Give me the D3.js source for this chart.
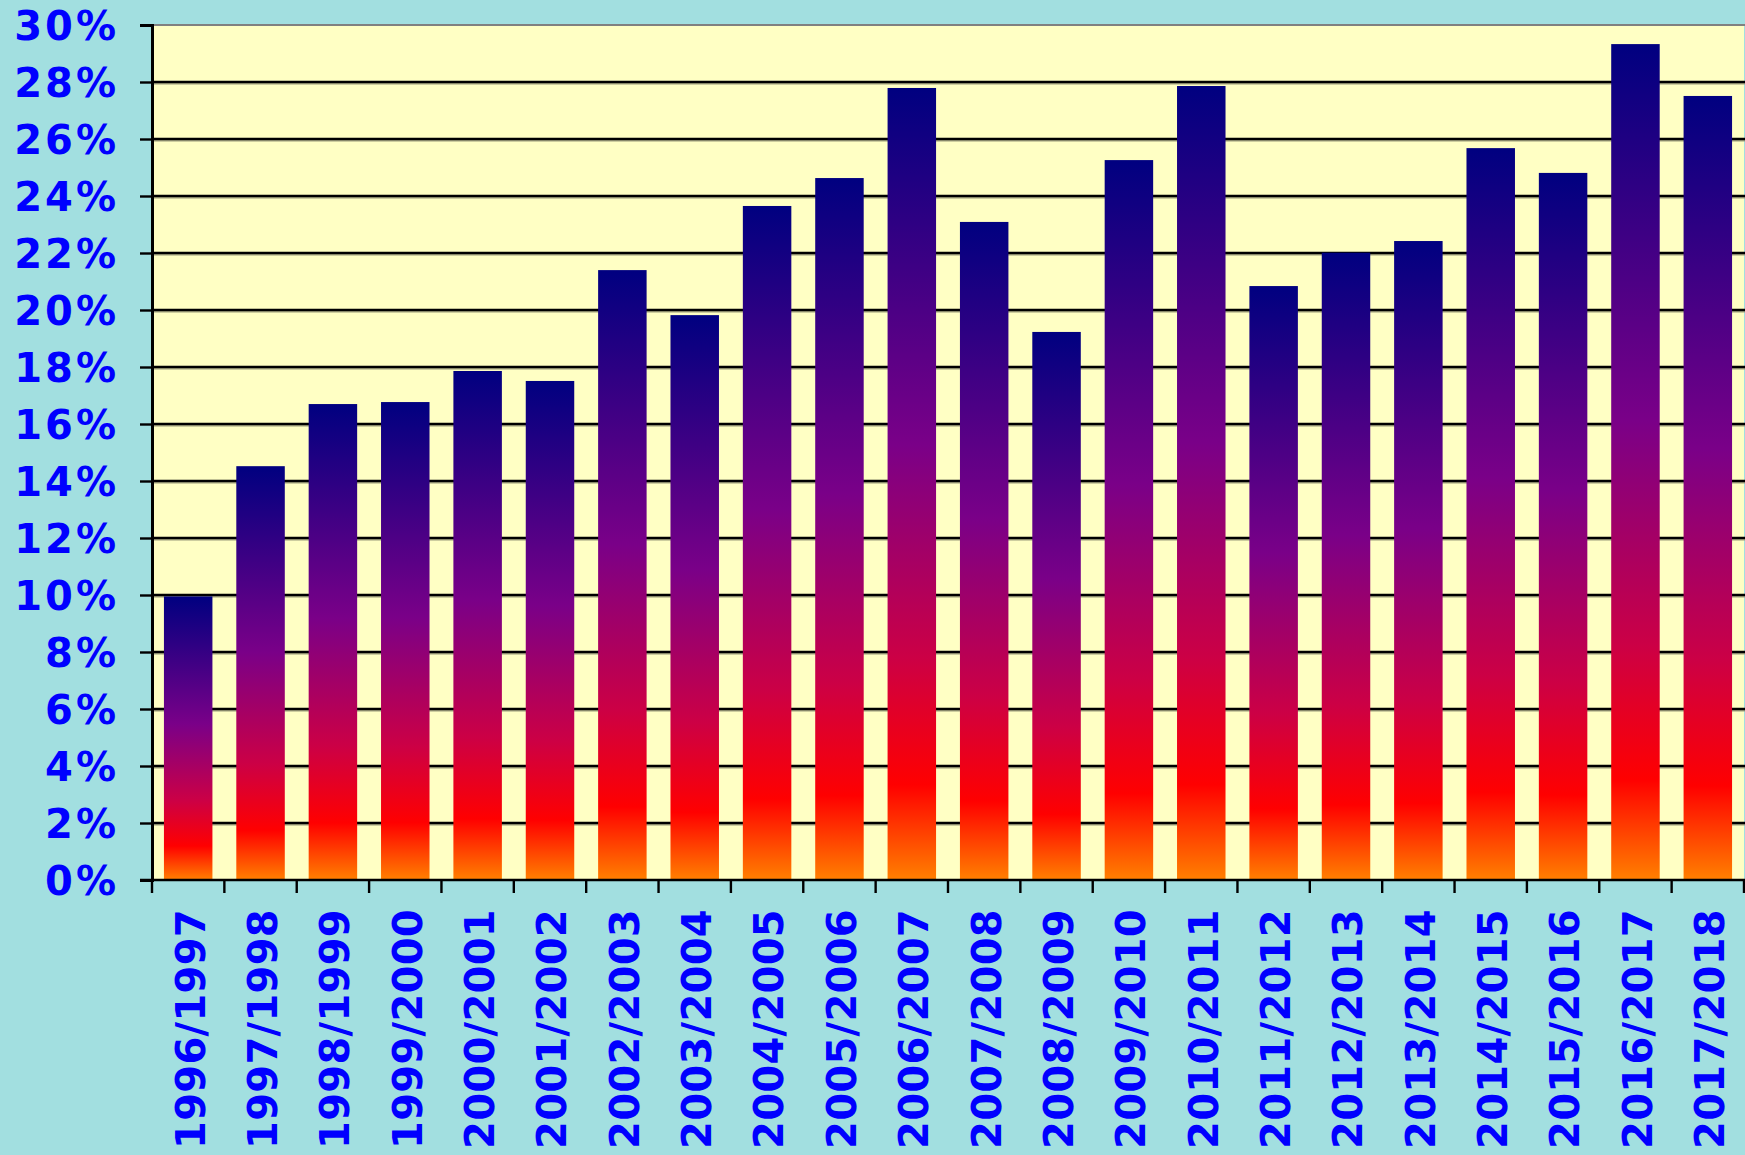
<!DOCTYPE html>
<html>
<head>
<meta charset="utf-8">
<script src="https://cdn.jsdelivr.net/npm/d3@7"></script>
<style>
  html, body { margin: 0; padding: 0; background: #A2DFE0; }
  svg { display: block; }
  text { font-family: "DejaVu Sans", Verdana, sans-serif; font-weight: bold; fill: #0000FF; }
</style>
</head>
<body>
<svg id="chart" width="1745" height="1155"></svg>
<script>
// Seasons along the x axis
const seasons = [
  "1996/1997", "1997/1998", "1998/1999", "1999/2000", "2000/2001", "2001/2002",
  "2002/2003", "2003/2004", "2004/2005", "2005/2006", "2006/2007", "2007/2008",
  "2008/2009", "2009/2010", "2010/2011", "2011/2012", "2012/2013", "2013/2014",
  "2014/2015", "2015/2016", "2016/2017", "2017/2018"
];

// Share per season, in percent
const shares = [
  9.95, 14.52, 16.70, 16.77, 17.86, 17.51,
  21.40, 19.82, 23.65, 24.63, 27.79, 23.09,
  19.23, 25.26, 27.86, 20.84, 22.01, 22.42,
  25.68, 24.81, 29.33, 27.51
];

// Y axis ticks, in percent
const yTicks = [0, 2, 4, 6, 8, 10, 12, 14, 16, 18, 20, 22, 24, 26, 28, 30];

const data = seasons.map((s, i) => ({ season: s, value: shares[i] }));

const svg = d3.select("#chart");
const W = 1745, H = 1155;
const plotLeft = 152, plotRight = 1744, plotTop = 25, plotBottom = 880;

svg.append("rect").attr("width", W).attr("height", H).attr("fill", "#A2DFE0");

const x = d3.scaleBand()
  .domain(seasons)
  .range([plotLeft, plotRight])
  .paddingInner(0.33)
  .paddingOuter(0.165);

const y = d3.scaleLinear().domain([0, 30]).range([plotBottom, plotTop]);

// Bar fill: navy at the top through purple and red to orange at the base
const defs = svg.append("defs");
const grad = defs.append("linearGradient")
  .attr("id", "barFill")
  .attr("x1", 0).attr("y1", 0).attr("x2", 0).attr("y2", 1);
[
  [0, "#000080"],
  [0.45, "#7a0088"],
  [0.72, "#cc0045"],
  [0.88, "#ff0000"],
  [1, "#ff8000"]
].forEach(([o, c]) => grad.append("stop").attr("offset", o).attr("stop-color", c));

// Plot area
svg.append("rect")
  .attr("x", plotLeft).attr("y", plotTop)
  .attr("width", plotRight - plotLeft).attr("height", plotBottom - plotTop)
  .attr("fill", "#FFFFC4");

// Top border of the plot area
svg.append("line")
  .attr("x1", plotLeft).attr("x2", plotRight + 1)
  .attr("y1", plotTop).attr("y2", plotTop)
  .attr("stroke", "#808080").attr("stroke-width", 2);

// Horizontal gridlines with a faint shadow underneath
const grid = svg.append("g");
yTicks.filter(t => t > 0 && t < 30).forEach(t => {
  grid.append("line")
    .attr("x1", plotLeft).attr("x2", plotRight + 1)
    .attr("y1", y(t) + 1.8).attr("y2", y(t) + 1.8)
    .attr("stroke", "#9c9c7a").attr("stroke-width", 1.2);
  grid.append("line")
    .attr("x1", plotLeft).attr("x2", plotRight + 1)
    .attr("y1", y(t)).attr("y2", y(t))
    .attr("stroke", "#000").attr("stroke-width", 2.4);
});

// Bars
svg.append("g").selectAll("rect")
  .data(data)
  .join("rect")
  .attr("x", d => x(d.season))
  .attr("y", d => y(d.value))
  .attr("width", x.bandwidth())
  .attr("height", d => y(0) - y(d.value))
  .attr("fill", "url(#barFill)");

// Y axis
const yAxis = d3.axisLeft(y)
  .tickValues(yTicks)
  .tickSize(12)
  .tickPadding(21)
  .tickFormat(d => d + "%");

const gy = svg.append("g")
  .attr("transform", `translate(${plotLeft},0)`)
  .call(yAxis);
gy.select(".domain").attr("stroke", "#000").attr("stroke-width", 3);
gy.selectAll(".tick line").attr("stroke", "#000").attr("stroke-width", 2.4);
gy.selectAll(".tick text")
  .attr("font-size", 40)
  .attr("fill", "#0000FF")
  .attr("dy", "0.36em")
  .style("letter-spacing", "3px");

// X axis baseline
svg.append("line")
  .attr("x1", plotLeft - 12).attr("x2", plotRight + 1)
  .attr("y1", plotBottom).attr("y2", plotBottom)
  .attr("stroke", "#000").attr("stroke-width", 2.4);

// X axis tick marks sit at the category boundaries
const bounds = d3.range(seasons.length + 1)
  .map(i => plotLeft + i * (plotRight - plotLeft) / seasons.length);
svg.append("g").selectAll("line")
  .data(bounds)
  .join("line")
  .attr("x1", d => d).attr("x2", d => d)
  .attr("y1", plotBottom).attr("y2", plotBottom + 13)
  .attr("stroke", "#000").attr("stroke-width", 2.4);

// Rotated season labels
svg.append("g").selectAll("text")
  .data(seasons)
  .join("text")
  .attr("transform", d => `translate(${x(d) + x.bandwidth() / 2 + 2},909) rotate(-90)`)
  .attr("text-anchor", "end")
  .attr("dy", "0.36em")
  .attr("font-size", 40)
  .style("letter-spacing", "0.3px")
  .text(d => d);
</script>
</body>
</html>
